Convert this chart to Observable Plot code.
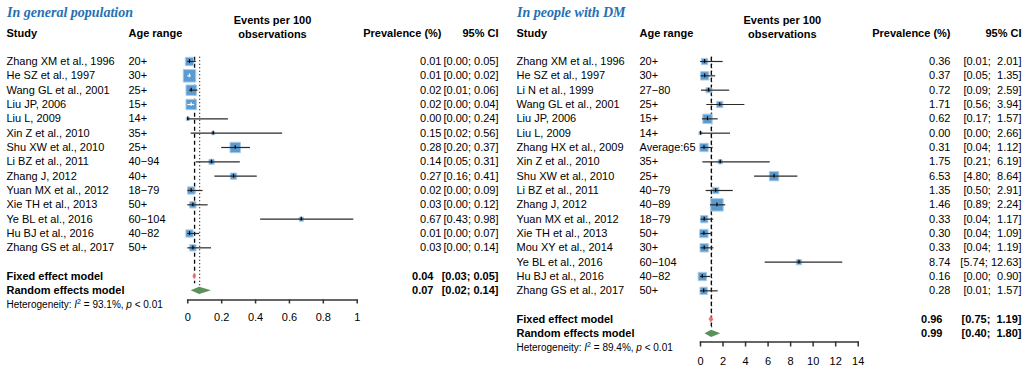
<!DOCTYPE html>
<html><head><meta charset="utf-8">
<script src="https://cdn.jsdelivr.net/npm/d3@7"></script>
<script src="https://cdn.jsdelivr.net/npm/@observablehq/plot@0.6"></script>
<style>
body{margin:0;background:#fff;}
#wrap{display:flex;width:1024px;height:367px;overflow:hidden;}
svg text{white-space:pre;}
</style></head><body><div id="wrap"></div>
<script>
// ---------- In general population ----------
const gpTitle = "In general population";
const gpStudies = ["Zhang XM et al., 1996","He SZ et al., 1997","Wang GL et al., 2001","Liu JP, 2006","Liu L, 2009","Xin Z et al., 2010","Shu XW et al., 2010","Li BZ et al., 2011","Zhang J, 2012","Yuan MX et al., 2012","Xie TH et al., 2013","Ye BL et al., 2016","Hu BJ et al., 2016","Zhang GS et al., 2017"];
const gpAges = ["20+","30+","25+","15+","14+","35+","25+","40\u221294","40+","18\u221279","50+","60\u2212104","40\u221282","50+"];
const gpEst = [0.01,0.01,0.02,0.02,0.00,0.15,0.28,0.14,0.27,0.02,0.03,0.67,0.01,0.03];
const gpLower = [0.00,0.00,0.01,0.00,0.00,0.02,0.20,0.05,0.16,0.00,0.00,0.43,0.00,0.00];
const gpUpper = [0.05,0.02,0.06,0.04,0.24,0.56,0.37,0.31,0.41,0.09,0.12,0.98,0.07,0.14];
const gpWeight = [8.3,18.6,12.9,12.9,1.2,1.2,12.9,3.2,4.7,6.3,4.7,2.1,6.3,4.7];
const gpFixed = [0.04,0.03,0.05];
const gpRandom = [0.07,0.02,0.14];
const gpI2 = "93.1%";
const gpP = "0.01";
const gpTicks = [0,0.2,0.4,0.6,0.8,1];

// ---------- In people with DM ----------
const dmTitle = "In people with DM";
const dmStudies = ["Zhang XM et al., 1996","He SZ et al., 1997","Li N et al., 1999","Wang GL et al., 2001","Liu JP, 2006","Liu L, 2009","Zhang HX et al., 2009","Xin Z et al., 2010","Shu XW et al., 2010","Li BZ et al., 2011","Zhang J, 2012","Yuan MX et al., 2012","Xie TH et al., 2013","Mou XY et al., 2014","Ye BL et al., 2016","Hu BJ et al., 2016","Zhang GS et al., 2017"];
const dmAges = ["20+","30+","27\u221280","25+","15+","14+","Average:65","35+","25+","40\u221279","40\u221289","18\u221279","50+","30+","60\u2212104","40\u221282","50+"];
const dmEst = [0.36,0.37,0.72,1.71,0.62,0.00,0.31,1.75,6.53,1.35,1.46,0.33,0.30,0.33,8.74,0.16,0.28];
const dmLower = [0.01,0.05,0.09,0.56,0.17,0.00,0.04,0.21,4.80,0.50,0.89,0.04,0.04,0.04,5.74,0.00,0.01];
const dmUpper = [2.01,1.35,2.59,3.94,1.57,2.66,1.12,6.19,8.64,2.91,2.24,1.17,1.09,1.19,12.63,0.90,1.57];
const dmWeight = [4.0,7.1,2.8,4.0,8.9,1.0,7.1,1.8,8.9,4.0,15.9,5.4,7.1,7.1,2.8,7.1,5.4];
const dmFixed = [0.96,0.75,1.19];
const dmRandom = [0.99,0.40,1.80];
const dmI2 = "89.4%";
const dmP = "0.01";
const dmTicks = [0,2,4,6,8,10,12,14];

const f2 = d3.format(".2f");
const FONT = "'Liberation Sans', Arial, Helvetica, sans-serif";

function panel(cfg) {
  const W = 512, H = 367;
  const rows = cfg.studies.map((s, i) => ({study: s, age: cfg.ages[i], est: cfg.est[i], lo: cfg.lower[i], hi: cfg.upper[i], w: cfg.weight[i], row: i}));
  const n = rows.length;
  const fixedRow = n + 1, randomRow = n + 2, hetRow = n + 3;
  const dom = [cfg.ticks[0], cfg.ticks[cfg.ticks.length - 1]];
  const pxPer = (W - cfg.mr - cfg.ml) / (dom[1] - dom[0]);
  const maxW = d3.max(rows, d => d.w);
  const maxSide = 12.5;
  const hiWidth = d3.max(rows, d => f2(d.hi).length);
  const ci = (lo, hi) => "[" + f2(lo) + "; " + " ".repeat(hiWidth - f2(hi).length) + f2(hi) + "]";
  rows.forEach(d => {
    const half = maxSide * Math.sqrt(d.w / maxW) / 2;
    d.inside = (d.est - d.lo) * pxPer <= half && (d.hi - d.est) * pxPer <= half;
    d.prev = f2(d.est);
    d.ci = ci(d.lo, d.hi);
  });
  const summ = [
    {label: "Fixed effect model", row: fixedRow, est: cfg.fixed[0], lo: cfg.fixed[1], hi: cfg.fixed[2], color: "#ef6f72"},
    {label: "Random effects model", row: randomRow, est: cfg.random[0], lo: cfg.random[1], hi: cfg.random[2], color: "#4f8c4f"}
  ];
  summ.forEach(d => { d.prev = f2(d.est); d.ci = ci(d.lo, d.hi); });
  const dh = 0.25;
  const diamonds = summ.flatMap(d => [
    {k: d.label, y: d.row - dh, x1: d.est, x2: d.est, c: d.color},
    {k: d.label, y: d.row, x1: d.lo, x2: d.hi, c: d.color},
    {k: d.label, y: d.row + dh, x1: d.est, x2: d.est, c: d.color}
  ]);
  const frameR = W - cfg.mr;
  const sx = cfg.studyX - cfg.ml, ax = cfg.ageX - cfg.ml;
  const px = cfg.prevX - frameR, cx = cfg.ciX - frameR;
  const txt = {fontSize: 11, fill: "#000"};

  const svg = Plot.plot({
    width: W, height: H,
    marginLeft: cfg.ml, marginRight: cfg.mr, marginTop: 0, marginBottom: cfg.mb,
    style: {fontFamily: FONT, fontSize: "11px", background: "#fff", color: "#000", overflow: "visible"},
    x: {domain: dom},
    y: {domain: [0, 1], range: [61, 61 + 14.333], axis: null},
    r: {type: "sqrt", domain: [0, maxW], range: [0, maxSide / Math.sqrt(Math.PI)]},
    marks: [
      Plot.frame({anchor: "bottom", stroke: "#333", strokeWidth: 1.5}),
      Plot.axisX({ticks: cfg.ticks, tickFormat: d => String(d), tickSize: cfg.tickSize, tickPadding: cfg.tickPad, fontSize: 11, stroke: "#333", strokeWidth: 1.5, label: null}),
      // reference lines
      Plot.ruleX([cfg.fixed[0]], {x: d => d, y1: -0.3, y2: fixedRow + 0.5, stroke: "#000", strokeWidth: 1.3, strokeDasharray: "4,3"}),
      Plot.ruleX([cfg.random[0]], {x: d => d, y1: -0.3, y2: randomRow - 0.25, stroke: "#000", strokeWidth: 1.1, strokeDasharray: "1,2.5"}),
      // squares
      Plot.dot(rows, {x: "est", y: "row", r: "w", symbol: "square", fill: "#5b9bcf", stroke: "#a9cce8", strokeWidth: 1}),
      // CIs
      Plot.ruleY(rows, {y: "row", x1: "lo", x2: "hi", stroke: d => d.inside ? "#ffffff" : "#2a2a2a", strokeWidth: 1.2}),
      Plot.ruleX(rows, {x: "est", y1: d => d.row - 0.13, y2: d => d.row + 0.13, stroke: d => d.inside ? "#ffffff" : "#000", strokeWidth: 1.2}),
      // diamonds
      Plot.areaX(diamonds, {z: "k", y: "y", x1: "x1", x2: "x2", fill: "c", fillOpacity: 0.95}),
      // text columns
      Plot.text(rows, {y: "row", text: "study", frameAnchor: "left", dx: sx, textAnchor: "start", ...txt}),
      Plot.text(rows, {y: "row", text: "age", frameAnchor: "left", dx: ax, textAnchor: "start", ...txt}),
      Plot.text(rows, {y: "row", text: "prev", frameAnchor: "right", dx: px, textAnchor: "end", ...txt}),
      Plot.text(rows, {y: "row", text: "ci", frameAnchor: "right", dx: cx, textAnchor: "end", ...txt}),
      Plot.text(summ, {y: "row", text: "label", frameAnchor: "left", dx: sx, textAnchor: "start", fontWeight: "bold", ...txt}),
      Plot.text(summ, {y: "row", text: "prev", frameAnchor: "right", dx: px - 8, textAnchor: "end", fontWeight: "bold", ...txt}),
      Plot.text(summ, {y: "row", text: "ci", frameAnchor: "right", dx: cx, textAnchor: "end", fontWeight: "bold", ...txt}),
      Plot.text(["Heterogeneity: I2 = " + cfg.i2 + ", p < " + cfg.p], {y: hetRow, text: d => d, frameAnchor: "left", dx: sx, textAnchor: "start", fontSize: 10, fill: "#000"}),
      // headers
      Plot.text([cfg.title], {text: d => d, frameAnchor: "top-left", dx: sx + 0.5, dy: 12, lineAnchor: "middle", textAnchor: "start", fontFamily: "'Liberation Serif', 'Times New Roman', serif", fontStyle: "italic", fontWeight: "bold", fontSize: 14, fill: "#2470b3"}),
      Plot.text(["Study"], {text: d => d, frameAnchor: "top-left", dx: sx, dy: 33, lineAnchor: "middle", textAnchor: "start", fontWeight: "bold", ...txt}),
      Plot.text(["Age range"], {text: d => d, frameAnchor: "top-left", dx: ax, dy: 33, lineAnchor: "middle", textAnchor: "start", fontWeight: "bold", ...txt}),
      Plot.text(["Events per 100\nobservations"], {text: d => d, frameAnchor: "top", dx: cfg.evDx, dy: 26, lineAnchor: "middle", lineHeight: 1.27, textAnchor: "middle", fontWeight: "bold", ...txt}),
      Plot.text(["Prevalence (%)"], {text: d => d, frameAnchor: "top-right", dx: px, dy: 33, lineAnchor: "middle", textAnchor: "end", fontWeight: "bold", ...txt}),
      Plot.text(["95% CI"], {text: d => d, frameAnchor: "top-right", dx: cx, dy: 33, lineAnchor: "middle", textAnchor: "end", fontWeight: "bold", ...txt})
    ]
  });
  d3.select(svg).selectAll("text").filter(function() { return this.textContent.startsWith("Heterogeneity"); })
    .each(function() {
      const t = d3.select(this);
      t.text(null);
      t.append("tspan").text("Heterogeneity: ");
      t.append("tspan").attr("font-style", "italic").text("I");
      t.append("tspan").attr("font-size", 7).attr("dy", -4).text("2");
      t.append("tspan").attr("dy", 4).text(" = " + cfg.i2 + ", ");
      t.append("tspan").attr("font-style", "italic").text("p");
      t.append("tspan").text(" < " + cfg.p);
    });
  return svg;
}

const wrap = document.getElementById("wrap");
wrap.appendChild(panel({
  title: gpTitle, studies: gpStudies, ages: gpAges, est: gpEst, lower: gpLower, upper: gpUpper, weight: gpWeight,
  fixed: gpFixed, random: gpRandom, i2: gpI2, p: gpP, ticks: gpTicks,
  ml: 187.3, mr: 155.3, mb: 67.5, tickSize: 4, tickPad: 9,
  studyX: 6, ageX: 128, prevX: 441, ciX: 498, evDx: 0
}));
wrap.appendChild(panel({
  title: dmTitle, studies: dmStudies, ages: dmAges, est: dmEst, lower: dmLower, upper: dmUpper, weight: dmWeight,
  fixed: dmFixed, random: dmRandom, i2: dmI2, p: dmP, ticks: dmTicks,
  ml: 188, mr: 166.3, mb: 25.5, tickSize: 5, tickPad: 10,
  studyX: 4, ageX: 127, prevX: 438, ciX: 509, evDx: 3
}));
</script></body></html>
